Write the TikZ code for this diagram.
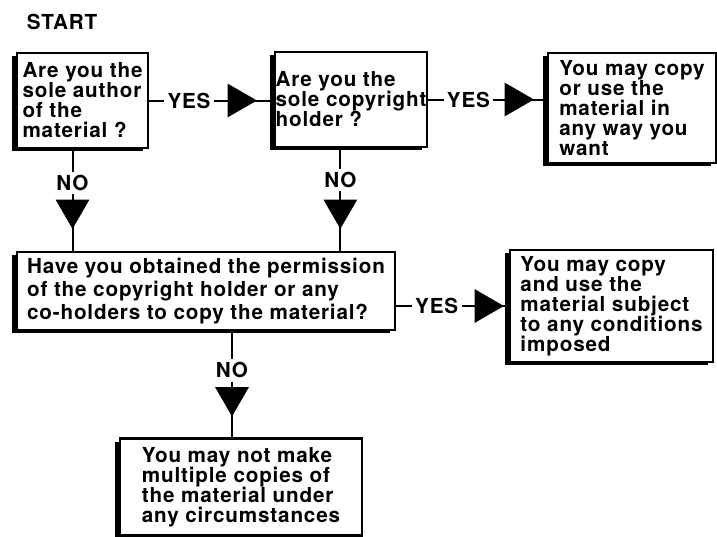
\documentclass[tikz,border=0pt]{standalone}
\usepackage{fontspec}
\setmainfont{TeX Gyre Heros}[LetterSpace=4]
\usepackage{tikz}
\usetikzlibrary{arrows.meta}
\usetikzlibrary{shadows}
\usetikzlibrary{decorations.markings}
\tikzset{
box/.style={draw,line width=1.6pt,fill=white,align=left,inner sep=0pt,drop shadow={shadow xshift=-4pt,shadow yshift=-2.5pt,opacity=1,fill=black}},
lbl/.style={fill=white,inner sep=2.5pt},
flow/.style={line width=1.5pt,postaction=decorate,decoration={markings,mark=at position #1 with {\arrow{Triangle[length=22pt,width=25pt]}}}}
}
\begin{document}
\begin{tikzpicture}[x=0.75pt,y=-0.75pt,font=\bfseries\fontsize{15.5pt}{15pt}\selectfont]
\useasboundingbox(0,0)rectangle(717,536);

\node(start)at(62,22){START};

\node[box,minimum width=98.25pt,minimum height=71.25pt](A)at(82.5,100.5){Are you the\\sole author\\of the\\material ?};
\node[box,minimum width=114pt,minimum height=71.25pt](B)at(351,99.5){Are you the\\sole copyright\\holder ?};
\node[box,minimum width=126pt,minimum height=82.5pt](C)at(632,108){You may copy\\or use the\\material in\\any way you\\want};
\node[box,minimum width=283.5pt,minimum height=58.5pt,font=\bfseries\fontsize{15.5pt}{17pt}\selectfont](D)at(206,291){Have you obtained the permission\\of the copyright holder or any\\co-holders to copy the material?};
\node[box,minimum width=152.25pt,minimum height=84pt](E)at(611.5,306){You may copy\\and use the\\material subject\\to any conditions\\imposed};
\node[box,minimum width=181.5pt,minimum height=72.75pt](F)at(241,487){You may not make\\multiple copies of\\the material under\\any circumstances};

\draw[flow=-12.75pt](A.east)--(A.east-|B.west)node[lbl,pos=.32]{YES};
\draw[flow=-9.75pt](B.east)--(B.east-|C.west)node[lbl,pos=.34]{YES};
\draw[flow=-3.75pt](E.west-|D.east)--(E.west)node[lbl,pos=.36]{YES};
\draw[flow=-16.5pt]([xshift=-7.5pt]A.south)--([xshift=-7.5pt]A.south|-D.north)node[lbl,pos=.33]{NO};
\draw[flow=-16.5pt]([xshift=-8pt]B.south)--([xshift=-8pt]B.south|-D.north)node[lbl,pos=.31]{NO};
\draw[flow=-15.75pt]([xshift=-6.75pt]F.north|-D.south)--([xshift=-6.75pt]F.north)node[lbl,pos=.37]{NO};

\end{tikzpicture}
\end{document}
